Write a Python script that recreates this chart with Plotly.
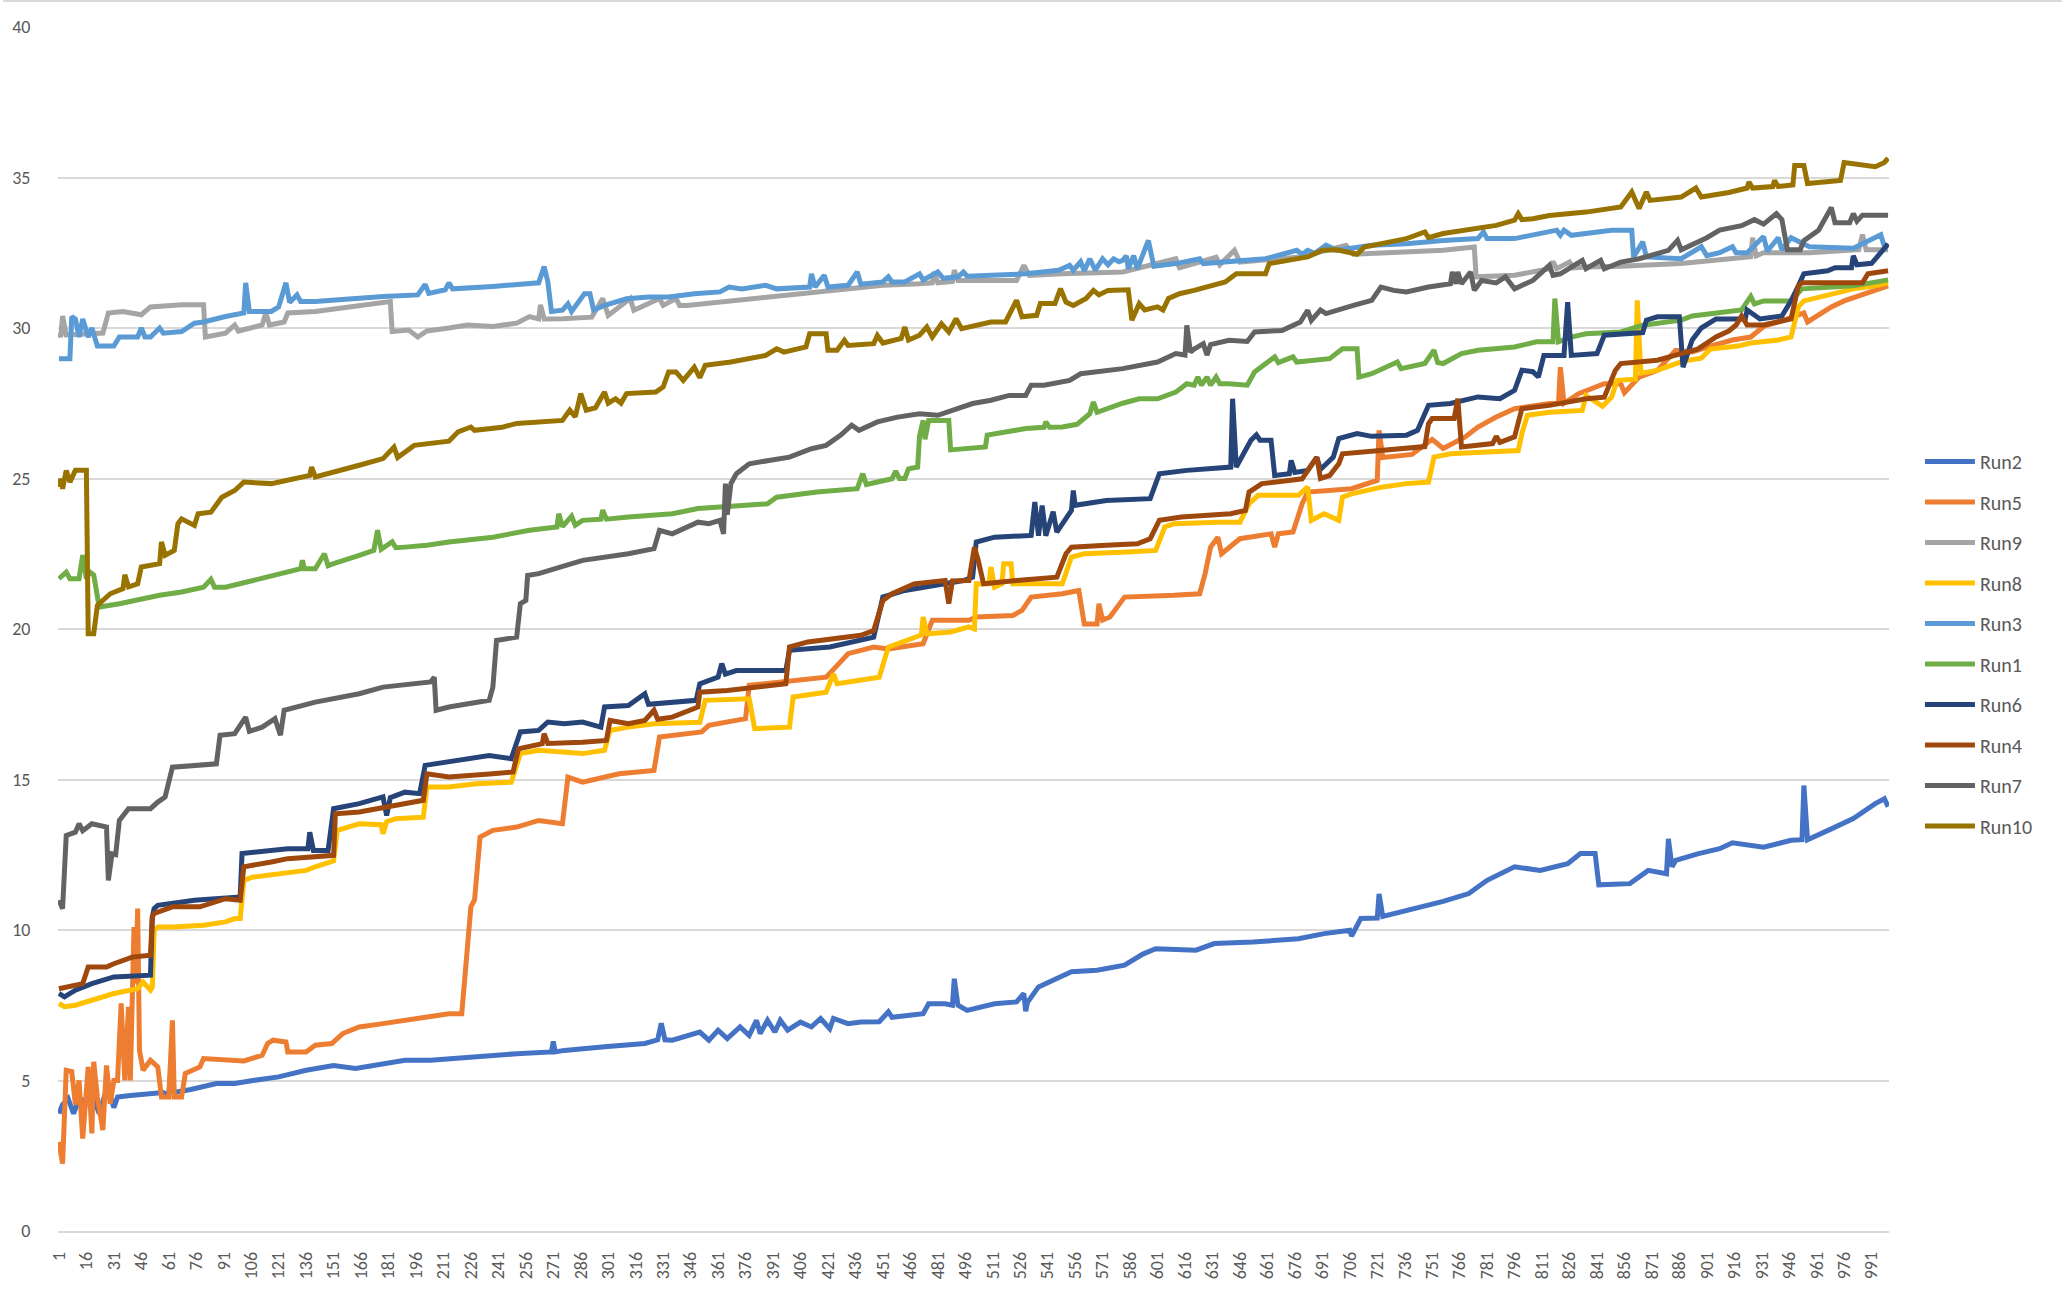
import plotly.graph_objects as go

# ---------------- data ----------------
series_names = ["Run2", "Run5", "Run9", "Run8", "Run3", "Run1", "Run6", "Run4", "Run7", "Run10"]
series_colors = ["#4472C4", "#ED7D31", "#A5A5A5", "#FFC000", "#5B9BD5",
                 "#70AD47", "#264478", "#9E480E", "#636363", "#997300"]

run2_x = [1, 3, 6, 9, 12, 16, 20, 23, 26, 29, 31, 33, 40, 50, 58, 61, 62, 64, 73, 87, 97, 107, 121, 136, 151, 163, 178, 190, 204, 224, 251, 270, 271, 272, 277, 299, 321, 328, 330, 332, 336, 351, 356, 361, 366, 373, 378, 382, 384, 388, 392, 395, 399, 406, 412, 417, 422, 424, 432, 439, 449, 454, 456, 473, 476, 485, 489, 490, 492, 497, 512, 524, 528, 529, 530, 536, 544, 554, 568, 583, 593, 600, 622, 632, 653, 678, 692, 706, 707, 709, 712, 721, 722, 724, 744, 757, 771, 781, 796, 810, 825, 832, 840, 842, 859, 869, 879, 880, 882, 884, 896, 908, 915, 932, 947, 953, 954, 956, 969, 981, 993, 998, 1000]
run2_y = [3.9, 4.2, 4.4, 3.9, 4.4, 4.3, 4.4, 3.9, 4.5, 4.5, 4.1, 4.45, 4.5, 4.55, 4.6, 4.5, 5.3, 4.6, 4.7, 4.9, 4.9, 5.0, 5.12, 5.34, 5.5, 5.4, 5.56, 5.67, 5.67, 5.78, 5.89, 5.95, 6.3, 5.95, 6.0, 6.12, 6.23, 6.35, 6.9, 6.35, 6.34, 6.61, 6.34, 6.67, 6.39, 6.78, 6.5, 7.0, 6.56, 7.0, 6.61, 7.0, 6.67, 6.94, 6.78, 7.06, 6.72, 7.06, 6.89, 6.94, 6.95, 7.28, 7.1, 7.22, 7.55, 7.55, 7.5, 8.38, 7.5, 7.33, 7.55, 7.61, 7.89, 7.3, 7.6, 8.11, 8.33, 8.61, 8.66, 8.83, 9.2, 9.38, 9.33, 9.55, 9.6, 9.71, 9.88, 9.99, 9.8, 10.0, 10.38, 10.4, 11.2, 10.45, 10.75, 10.95, 11.21, 11.65, 12.1, 11.98, 12.2, 12.54, 12.54, 11.5, 11.54, 11.98, 11.87, 13.03, 12.1, 12.31, 12.53, 12.7, 12.9, 12.75, 12.98, 13.0, 14.8, 13.0, 13.36, 13.7, 14.2, 14.36, 14.1]

run5_x = [1, 3, 5, 8, 10, 12, 14, 17, 19, 20, 22, 25, 27, 29, 31, 33, 35, 37, 39, 40, 42, 43, 44, 45, 47, 51, 55, 57, 61, 63, 64, 68, 70, 78, 80, 92, 102, 112, 115, 118, 125, 126, 136, 141, 150, 156, 165, 178, 190, 202, 214, 221, 224, 226, 228, 230, 231, 238, 251, 263, 276, 279, 287, 307, 326, 329, 352, 356, 376, 378, 403, 420, 427, 432, 439, 446, 454, 473, 478, 498, 502, 522, 527, 532, 549, 558, 561, 568, 569, 571, 575, 583, 610, 624, 627, 630, 634, 636, 646, 663, 665, 667, 675, 680, 683, 707, 721, 722, 724, 740, 751, 757, 769, 776, 786, 796, 815, 820, 821, 823, 831, 845, 854, 856, 864, 874, 884, 893, 903, 915, 925, 932, 945, 954, 956, 969, 976, 981, 991, 1000]
run5_y = [2.96, 2.24, 5.34, 5.3, 4.2, 5.0, 3.07, 5.45, 3.24, 5.62, 4.45, 3.35, 5.5, 4.23, 5.0, 5.0, 7.56, 5.0, 7.45, 5.0, 10.1, 8.22, 10.71, 6.0, 5.34, 5.67, 5.45, 4.45, 4.45, 7.0, 4.45, 4.45, 5.23, 5.45, 5.73, 5.67, 5.65, 5.84, 6.23, 6.34, 6.28, 5.95, 5.95, 6.17, 6.23, 6.56, 6.78, 6.89, 7.0, 7.11, 7.22, 7.22, 9.66, 10.77, 11.0, 12.65, 13.09, 13.31, 13.42, 13.64, 13.53, 15.08, 14.91, 15.19, 15.3, 16.41, 16.58, 16.8, 17.02, 18.13, 18.29, 18.4, 18.85, 19.18, 19.29, 19.4, 19.34, 19.51, 20.29, 20.29, 20.4, 20.45, 20.62, 21.06, 21.17, 21.28, 20.17, 20.17, 20.84, 20.3, 20.4, 21.06, 21.12, 21.17, 21.84, 22.72, 23.05, 22.5, 23.0, 23.16, 22.72, 23.16, 23.22, 24.16, 24.55, 24.66, 24.94, 26.6, 25.7, 25.8, 26.3, 26.0, 26.38, 26.71, 27.04, 27.32, 27.49, 27.49, 28.7, 27.5, 27.82, 28.15, 28.15, 27.85, 28.37, 28.59, 29.26, 29.2, 29.4, 29.6, 29.7, 30.05, 30.3, 30.5, 30.2, 30.7, 30.9, 31.0, 31.2, 31.4]

run9_x = [1, 2, 3, 5, 25, 28, 36, 46, 51, 68, 80, 81, 92, 97, 99, 112, 114, 116, 124, 126, 141, 158, 170, 182, 183, 192, 197, 202, 214, 224, 238, 251, 258, 263, 264, 266, 276, 292, 298, 301, 313, 315, 329, 331, 338, 340, 344, 362, 374, 393, 412, 432, 451, 471, 478, 479, 481, 489, 490, 492, 500, 524, 528, 531, 549, 582, 611, 613, 633, 635, 643, 646, 679, 704, 708, 737, 757, 774, 775, 796, 815, 817, 819, 826, 828, 835, 854, 887, 908, 925, 926, 928, 932, 957, 984, 986, 988, 1000]
run9_y = [29.83, 29.7, 30.4, 29.77, 29.83, 30.5, 30.55, 30.44, 30.7, 30.77, 30.77, 29.7, 29.83, 30.1, 29.9, 30.1, 30.5, 30.1, 30.2, 30.5, 30.55, 30.7, 30.77, 30.88, 29.88, 29.93, 29.7, 29.9, 30.0, 30.1, 30.05, 30.16, 30.38, 30.3, 30.77, 30.3, 30.31, 30.36, 30.98, 30.42, 30.98, 30.59, 30.98, 30.75, 30.98, 30.75, 30.75, 30.86, 30.97, 31.09, 31.2, 31.31, 31.42, 31.47, 31.5, 31.86, 31.5, 31.55, 31.92, 31.58, 31.58, 31.58, 32.08, 31.75, 31.8, 31.86, 32.3, 32.0, 32.35, 32.1, 32.58, 32.19, 32.36, 32.75, 32.45, 32.53, 32.58, 32.69, 31.7, 31.75, 31.97, 32.2, 31.97, 32.19, 32.0, 32.03, 32.05, 32.14, 32.26, 32.37, 33.0, 32.4, 32.5, 32.5, 32.6, 33.1, 32.6, 32.6]

run8_x = [1, 4, 10, 19, 31, 44, 47, 51, 52, 53, 55, 63, 80, 92, 97, 100, 102, 107, 121, 136, 141, 150, 151, 153, 165, 177, 178, 180, 185, 200, 202, 214, 229, 248, 253, 263, 287, 299, 302, 312, 326, 351, 354, 378, 381, 400, 402, 420, 424, 426, 439, 449, 454, 468, 472, 473, 475, 488, 498, 501, 502, 509, 510, 512, 516, 517, 521, 522, 527, 549, 554, 561, 585, 600, 605, 610, 634, 646, 651, 656, 678, 683, 685, 692, 700, 702, 707, 724, 737, 749, 752, 761, 781, 798, 800, 803, 815, 833, 835, 844, 849, 852, 862, 863, 865, 874, 888, 898, 903, 918, 925, 940, 947, 951, 954, 969, 981, 993, 1000]
run8_y = [7.56, 7.45, 7.5, 7.67, 7.89, 8.05, 8.27, 8.0, 8.1, 9.99, 10.1, 10.1, 10.16, 10.27, 10.38, 10.38, 11.65, 11.76, 11.87, 11.98, 12.1, 12.3, 12.3, 13.31, 13.53, 13.5, 13.2, 13.6, 13.7, 13.75, 14.75, 14.75, 14.86, 14.91, 15.86, 15.97, 15.86, 15.97, 16.63, 16.74, 16.85, 16.9, 17.63, 17.68, 16.69, 16.74, 17.74, 17.9, 18.51, 18.18, 18.29, 18.4, 19.4, 19.73, 19.8, 20.4, 19.84, 19.9, 20.07, 20.0, 21.5, 21.5, 22.06, 21.39, 21.5, 22.17, 22.17, 21.5, 21.5, 21.5, 22.39, 22.5, 22.56, 22.61, 23.39, 23.5, 23.55, 23.55, 24.16, 24.44, 24.44, 24.72, 23.61, 23.83, 23.61, 24.38, 24.49, 24.72, 24.83, 24.88, 25.71, 25.82, 25.88, 25.93, 26.49, 27.1, 27.2, 27.26, 27.76, 27.4, 27.7, 28.26, 28.3, 30.92, 28.5, 28.59, 28.9, 29.0, 29.3, 29.4, 29.5, 29.6, 29.7, 30.7, 30.9, 31.1, 31.3, 31.4, 31.5]

run3_x = [1, 7, 8, 10, 12, 14, 17, 19, 22, 31, 34, 44, 46, 48, 51, 56, 58, 68, 75, 80, 92, 102, 103, 105, 117, 121, 125, 127, 131, 133, 141, 165, 178, 197, 201, 203, 212, 214, 216, 238, 263, 266, 268, 270, 276, 279, 281, 288, 291, 293, 299, 311, 323, 334, 348, 362, 367, 374, 387, 393, 405, 411, 412, 414, 419, 421, 432, 437, 439, 451, 454, 456, 463, 471, 473, 481, 484, 492, 495, 497, 510, 529, 547, 553, 555, 559, 561, 564, 567, 571, 574, 577, 580, 582, 584, 585, 588, 590, 596, 599, 611, 624, 626, 640, 660, 677, 680, 683, 687, 693, 699, 718, 737, 757, 776, 779, 781, 796, 819, 821, 823, 827, 849, 860, 861, 866, 868, 887, 898, 901, 908, 915, 917, 923, 932, 934, 940, 942, 947, 957, 981, 996, 998, 1000]
run3_y = [28.98, 28.98, 30.38, 30.3, 29.7, 30.3, 29.7, 30.0, 29.4, 29.4, 29.7, 29.7, 30.0, 29.7, 29.7, 30.0, 29.83, 29.88, 30.16, 30.2, 30.38, 30.5, 31.5, 30.55, 30.55, 30.7, 31.5, 30.85, 31.1, 30.88, 30.88, 31.0, 31.05, 31.1, 31.45, 31.15, 31.27, 31.5, 31.3, 31.38, 31.5, 32.04, 31.55, 30.55, 30.59, 30.8, 30.55, 31.14, 31.14, 30.6, 30.75, 30.97, 31.03, 31.03, 31.14, 31.2, 31.36, 31.3, 31.42, 31.3, 31.36, 31.36, 31.8, 31.36, 31.75, 31.36, 31.42, 31.86, 31.45, 31.53, 31.7, 31.53, 31.53, 31.8, 31.6, 31.86, 31.65, 31.7, 31.86, 31.72, 31.75, 31.8, 31.92, 32.08, 31.92, 32.2, 31.9, 32.3, 31.92, 32.3, 32.1, 32.3, 32.2, 32.25, 32.4, 31.97, 32.4, 31.97, 32.91, 32.05, 32.14, 32.3, 32.14, 32.19, 32.3, 32.58, 32.45, 32.58, 32.48, 32.75, 32.58, 32.75, 32.8, 32.91, 32.97, 33.19, 32.97, 32.97, 33.25, 33.08, 33.25, 33.08, 33.25, 33.25, 32.36, 32.86, 32.36, 32.3, 32.7, 32.4, 32.5, 32.7, 32.5, 32.5, 33.04, 32.55, 33.0, 32.6, 33.0, 32.7, 32.65, 33.1, 32.7, 32.65]

run1_x = [1, 5, 7, 12, 14, 16, 18, 20, 23, 34, 56, 68, 80, 84, 86, 92, 107, 121, 133, 134, 135, 141, 146, 148, 151, 165, 173, 175, 177, 183, 185, 190, 202, 214, 238, 258, 273, 274, 276, 281, 283, 287, 297, 298, 300, 312, 336, 350, 361, 378, 388, 393, 415, 437, 440, 442, 456, 458, 460, 463, 465, 470, 471, 473, 474, 476, 487, 488, 498, 507, 508, 520, 529, 539, 540, 542, 549, 557, 564, 566, 568, 582, 591, 601, 611, 617, 621, 623, 625, 628, 630, 633, 635, 640, 650, 654, 665, 667, 675, 677, 695, 702, 710, 711, 718, 732, 734, 747, 752, 754, 757, 767, 776, 796, 808, 817, 818, 820, 827, 835, 854, 866, 887, 893, 920, 925, 927, 932, 947, 953, 981, 1000]
run1_y = [21.67, 21.89, 21.67, 21.67, 22.45, 21.67, 21.89, 21.8, 20.73, 20.84, 21.12, 21.23, 21.39, 21.65, 21.39, 21.39, 21.61, 21.84, 22.0, 22.28, 22.0, 22.0, 22.5, 22.1, 22.17, 22.45, 22.61, 23.28, 22.65, 22.9, 22.7, 22.72, 22.78, 22.89, 23.05, 23.28, 23.39, 23.83, 23.4, 23.75, 23.45, 23.61, 23.65, 23.95, 23.65, 23.72, 23.83, 24.0, 24.05, 24.11, 24.16, 24.38, 24.55, 24.66, 25.16, 24.8, 24.99, 25.25, 25.0, 25.0, 25.32, 25.38, 26.4, 26.93, 26.3, 26.93, 26.93, 25.95, 26.0, 26.05, 26.44, 26.55, 26.66, 26.7, 26.88, 26.7, 26.71, 26.8, 27.15, 27.54, 27.2, 27.5, 27.65, 27.65, 27.87, 28.15, 28.1, 28.37, 28.1, 28.37, 28.1, 28.37, 28.15, 28.15, 28.1, 28.54, 29.04, 28.85, 29.04, 28.87, 28.98, 29.31, 29.31, 28.37, 28.48, 28.87, 28.65, 28.82, 29.26, 28.85, 28.82, 29.15, 29.26, 29.37, 29.54, 29.54, 30.98, 29.54, 29.7, 29.81, 29.87, 30.09, 30.26, 30.4, 30.6, 31.05, 30.8, 30.9, 30.9, 31.3, 31.4, 31.6]

run6_x = [1, 4, 10, 19, 31, 51, 52, 53, 55, 63, 75, 100, 101, 126, 137, 138, 140, 148, 151, 165, 178, 180, 182, 190, 198, 201, 214, 226, 236, 248, 253, 263, 268, 277, 287, 297, 299, 312, 321, 323, 336, 349, 351, 361, 363, 365, 371, 398, 400, 422, 446, 451, 463, 495, 500, 502, 512, 532, 534, 536, 538, 540, 544, 546, 554, 555, 556, 573, 597, 602, 617, 641, 642, 644, 652, 655, 657, 663, 665, 673, 674, 676, 683, 688, 690, 697, 700, 710, 718, 737, 743, 749, 761, 776, 788, 796, 800, 806, 809, 812, 823, 825, 827, 841, 845, 854, 866, 868, 874, 886, 888, 893, 898, 906, 922, 923, 930, 942, 947, 951, 954, 967, 971, 980, 981, 983, 991, 996, 1000]
run6_y = [7.89, 7.78, 8.0, 8.22, 8.44, 8.5, 10.43, 10.71, 10.82, 10.88, 10.99, 11.1, 12.54, 12.7, 12.7, 13.25, 12.64, 12.64, 14.03, 14.2, 14.42, 13.8, 14.4, 14.58, 14.53, 15.47, 15.58, 15.69, 15.8, 15.69, 16.58, 16.63, 16.91, 16.85, 16.91, 16.74, 17.41, 17.46, 17.85, 17.5, 17.57, 17.63, 18.18, 18.4, 18.85, 18.5, 18.62, 18.62, 19.29, 19.4, 19.73, 21.06, 21.28, 21.61, 21.72, 22.89, 23.05, 23.11, 24.22, 23.1, 24.1, 23.1, 23.9, 23.22, 23.94, 24.6, 24.11, 24.27, 24.33, 25.16, 25.27, 25.38, 27.65, 25.38, 26.27, 26.45, 26.27, 26.27, 25.1, 25.16, 25.6, 25.2, 25.27, 25.7, 25.3, 25.71, 26.33, 26.49, 26.4, 26.44, 26.6, 27.43, 27.49, 27.71, 27.65, 27.93, 28.6, 28.55, 28.37, 29.09, 29.09, 30.86, 29.09, 29.15, 29.76, 29.81, 29.85, 30.26, 30.37, 30.37, 28.7, 29.6, 30.0, 30.3, 30.3, 30.6, 30.3, 30.4, 30.9, 31.4, 31.8, 31.9, 32.0, 32.0, 32.4, 32.1, 32.15, 32.5, 32.8]

run4_x = [1, 14, 17, 27, 31, 41, 51, 52, 53, 63, 78, 92, 100, 102, 117, 126, 151, 152, 165, 190, 200, 202, 214, 238, 249, 252, 265, 266, 268, 287, 300, 302, 312, 321, 326, 328, 336, 350, 351, 366, 398, 400, 410, 439, 446, 451, 456, 468, 485, 487, 489, 498, 501, 503, 506, 524, 546, 551, 554, 573, 590, 597, 602, 614, 641, 649, 651, 658, 680, 688, 690, 695, 700, 702, 724, 747, 749, 751, 763, 765, 767, 784, 786, 788, 796, 800, 815, 825, 835, 845, 851, 854, 874, 887, 896, 901, 906, 913, 917, 920, 923, 932, 947, 951, 953, 986, 989, 1000]
run4_y = [8.05, 8.22, 8.77, 8.77, 8.88, 9.1, 9.16, 10.43, 10.55, 10.77, 10.77, 11.04, 10.99, 12.1, 12.26, 12.37, 12.48, 13.86, 13.92, 14.2, 14.31, 15.19, 15.08, 15.19, 15.25, 16.02, 16.19, 16.52, 16.2, 16.24, 16.3, 16.96, 16.85, 16.96, 17.3, 17.0, 17.07, 17.41, 17.9, 17.96, 18.18, 19.4, 19.57, 19.79, 19.95, 20.95, 21.17, 21.5, 21.61, 20.84, 21.6, 21.61, 22.72, 22.3, 21.5, 21.61, 21.72, 22.5, 22.72, 22.78, 22.83, 23.0, 23.61, 23.72, 23.83, 23.94, 24.55, 24.83, 24.99, 25.71, 25.0, 25.1, 25.49, 25.82, 25.93, 26.06, 26.82, 26.99, 26.99, 27.65, 26.05, 26.16, 26.4, 26.2, 26.38, 27.32, 27.43, 27.54, 27.65, 27.7, 28.59, 28.82, 28.93, 29.15, 29.3, 29.5, 29.7, 29.9, 30.1, 30.4, 30.1, 30.1, 30.3, 31.4, 31.5, 31.5, 31.8, 31.9]

run7_x = [1, 3, 5, 10, 12, 14, 19, 27, 28, 30, 32, 34, 39, 51, 55, 59, 63, 73, 87, 89, 97, 103, 105, 112, 119, 122, 124, 141, 165, 178, 190, 204, 206, 207, 214, 236, 238, 240, 251, 253, 256, 257, 263, 275, 287, 312, 326, 329, 336, 350, 356, 362, 364, 365, 366, 368, 371, 378, 390, 400, 412, 420, 428, 434, 438, 448, 459, 471, 481, 490, 500, 510, 520, 529, 532, 539, 553, 559, 568, 582, 601, 611, 616, 617, 619, 621, 626, 628, 630, 640, 650, 654, 669, 679, 683, 685, 690, 693, 708, 718, 723, 730, 737, 749, 761, 762, 764, 765, 767, 772, 774, 778, 786, 791, 796, 806, 815, 817, 821, 833, 835, 843, 845, 854, 864, 874, 880, 885, 887, 901, 908, 920, 927, 932, 939, 942, 945, 952, 954, 962, 969, 971, 979, 981, 983, 986, 1000]
run7_y = [10.99, 10.71, 13.14, 13.25, 13.53, 13.3, 13.53, 13.42, 11.65, 12.53, 12.5, 13.64, 14.03, 14.03, 14.25, 14.42, 15.41, 15.47, 15.52, 16.47, 16.52, 17.07, 16.6, 16.74, 17.02, 16.47, 17.3, 17.57, 17.85, 18.07, 18.13, 18.24, 18.4, 17.3, 17.41, 17.63, 18.07, 19.62, 19.73, 20.84, 20.95, 21.78, 21.84, 22.06, 22.28, 22.5, 22.67, 23.28, 23.16, 23.55, 23.5, 23.61, 23.16, 24.83, 23.8, 24.83, 25.16, 25.49, 25.6, 25.71, 25.99, 26.1, 26.44, 26.77, 26.6, 26.88, 27.04, 27.15, 27.1, 27.27, 27.49, 27.6, 27.76, 27.76, 28.1, 28.1, 28.26, 28.48, 28.54, 28.65, 28.87, 29.15, 29.1, 30.09, 29.2, 29.3, 29.48, 29.1, 29.45, 29.59, 29.55, 29.87, 29.92, 30.2, 30.59, 30.25, 30.6, 30.48, 30.75, 30.92, 31.36, 31.25, 31.2, 31.36, 31.47, 31.86, 31.47, 31.86, 31.47, 31.86, 31.25, 31.58, 31.5, 31.7, 31.3, 31.58, 32.08, 31.75, 31.8, 32.25, 31.97, 32.25, 31.97, 32.19, 32.3, 32.47, 32.58, 32.91, 32.6, 33.0, 33.25, 33.4, 33.6, 33.45, 33.8, 33.6, 32.6, 32.6, 32.9, 33.25, 34.0, 33.5, 33.5, 33.8, 33.55, 33.75, 33.75]

run10_x = [1, 2, 3, 5, 7, 10, 16, 17, 20, 22, 29, 36, 37, 39, 44, 46, 56, 57, 59, 64, 66, 68, 75, 77, 84, 90, 97, 102, 117, 129, 138, 139, 141, 165, 178, 184, 186, 195, 214, 219, 226, 228, 243, 251, 273, 276, 280, 283, 286, 289, 294, 299, 301, 305, 308, 311, 327, 331, 334, 338, 342, 348, 351, 354, 368, 377, 387, 393, 397, 409, 411, 420, 421, 426, 430, 432, 446, 448, 451, 461, 463, 465, 471, 475, 478, 483, 487, 491, 494, 510, 518, 524, 527, 535, 537, 545, 548, 551, 555, 562, 566, 569, 574, 585, 587, 591, 594, 601, 604, 607, 613, 621, 630, 638, 644, 660, 662, 669, 683, 691, 699, 710, 714, 728, 737, 747, 749, 757, 776, 786, 796, 798, 800, 806, 815, 835, 854, 860, 864, 868, 870, 887, 895, 898, 913, 923, 924, 926, 937, 938, 940, 948, 949, 954, 956, 974, 976, 993, 998, 1000]
run10_y = [24.72, 24.99, 24.66, 25.27, 24.88, 25.27, 25.27, 19.84, 19.84, 20.78, 21.17, 21.34, 21.8, 21.4, 21.5, 22.06, 22.17, 22.89, 22.45, 22.61, 23.5, 23.66, 23.44, 23.83, 23.88, 24.38, 24.6, 24.88, 24.83, 24.99, 25.1, 25.38, 25.05, 25.44, 25.66, 26.04, 25.7, 26.1, 26.24, 26.55, 26.71, 26.6, 26.7, 26.83, 26.94, 26.93, 27.27, 27.05, 27.82, 27.27, 27.35, 27.87, 27.5, 27.65, 27.5, 27.82, 27.87, 28.04, 28.54, 28.54, 28.26, 28.7, 28.35, 28.76, 28.87, 28.98, 29.09, 29.31, 29.2, 29.37, 29.81, 29.81, 29.26, 29.26, 29.59, 29.42, 29.48, 29.75, 29.5, 29.65, 30.03, 29.6, 29.76, 30.03, 29.7, 30.14, 29.87, 30.31, 29.98, 30.2, 30.2, 30.92, 30.37, 30.42, 30.81, 30.81, 31.31, 30.86, 30.75, 30.98, 31.25, 31.1, 31.25, 31.27, 30.26, 30.81, 30.6, 30.7, 30.6, 30.98, 31.14, 31.25, 31.42, 31.53, 31.8, 31.8, 32.14, 32.2, 32.36, 32.58, 32.6, 32.45, 32.69, 32.86, 32.97, 33.19, 33.0, 33.14, 33.3, 33.41, 33.58, 33.8, 33.6, 33.63, 33.74, 33.85, 34.02, 34.52, 33.97, 34.52, 34.24, 34.35, 34.65, 34.35, 34.5, 34.65, 34.85, 34.65, 34.7, 34.9, 34.7, 34.75, 35.4, 35.4, 34.8, 34.9, 35.5, 35.36, 35.5, 35.64]

series_x = [run2_x, run5_x, run9_x, run8_x, run3_x, run1_x, run6_x, run4_x, run7_x, run10_x]
series_y = [run2_y, run5_y, run9_y, run8_y, run3_y, run1_y, run6_y, run4_y, run7_y, run10_y]

x_tick_values = list(range(1, 1001, 15))
x_tick_labels = [str(v) for v in x_tick_values]
y_tick_values = [0, 5, 10, 15, 20, 25, 30, 35, 40]

# ---------------- figure ----------------
FONT = "Calibri, Carlito, Lato, 'Open Sans', sans-serif"
TXT = "#595959"
GRID = "#D9D9D9"

fig = go.Figure()
for name, color, xs, ys in zip(series_names, series_colors, series_x, series_y):
    fig.add_trace(go.Scatter(
        x=xs, y=ys, mode="lines", name=name, legendgroup=name,
        line=dict(color=color, width=5, shape="linear"),
        hoverinfo="x+y+name",
    ))

W, H = 2062, 1294
L, R, T, B = 55, 173, 27, 63
plot_w = W - L - R
plot_h = H - T - B

fig.update_layout(
    width=W, height=H, autosize=False,
    margin=dict(l=L, r=R, t=T, b=B, pad=0),
    paper_bgcolor="white", plot_bgcolor="white",
    font=dict(family=FONT, size=18, color=TXT),
    showlegend=True,
    legend=dict(
        x=(1920 - L) / plot_w, xanchor="left",
        y=(H - B - 644) / plot_h, yanchor="middle",
        font=dict(family=FONT, size=20, color=TXT),
        itemwidth=50, tracegroupgap=11.5,
        bgcolor="rgba(0,0,0,0)", borderwidth=0,
        traceorder="grouped",
    ),
    xaxis=dict(
        range=[0.5, 1000.5], tickmode="array",
        tickvals=x_tick_values, ticktext=x_tick_labels,
        tickangle=-90, showgrid=False, zeroline=False,
        showline=True, linecolor=GRID, linewidth=1.5,
        ticks="", ticklabelstandoff=12,
        tickfont=dict(family=FONT, size=18, color=TXT),
        fixedrange=True,
    ),
    yaxis=dict(
        range=[0, 40], tickmode="array", tickvals=y_tick_values,
        showgrid=True, gridcolor=GRID, gridwidth=1.5,
        zeroline=False, showline=False,
        ticks="outside", ticklen=6, tickcolor="rgba(0,0,0,0)",
        ticklabelstandoff=17,
        tickfont=dict(family=FONT, size=18, color=TXT),
        fixedrange=True,
    ),
    shapes=[dict(
        type="line", xref="paper", yref="paper",
        x0=-L / plot_w, x1=(W - L) / plot_w,
        y0=(H - B - 1) / plot_h, y1=(H - B - 1) / plot_h,
        line=dict(color=GRID, width=2),
    )],
)

fig.write_html("out.html")
